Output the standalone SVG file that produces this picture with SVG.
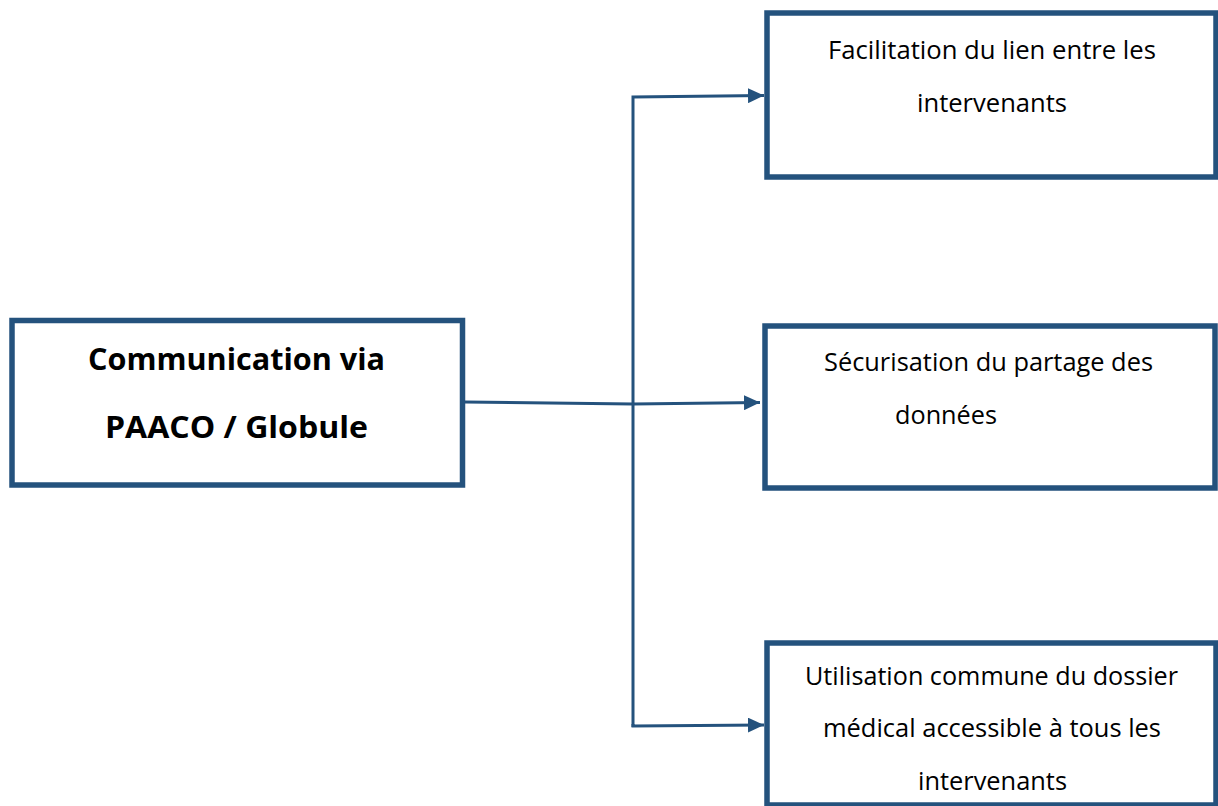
<svg xmlns="http://www.w3.org/2000/svg" width="1218" height="806" viewBox="0 0 1218 806">
<defs>
<marker id="arr" viewBox="0 0 16 15" refX="16" refY="7.5" markerWidth="16" markerHeight="15" markerUnits="userSpaceOnUse" orient="auto">
<path d="M0,0 L16,7.5 L0,15 z" fill="#24527d"/>
</marker>
<style>
.box{fill:#fff;stroke:#24527d;stroke-width:5.5}
.t{font-family:"Open Sans","Liberation Sans",sans-serif;font-size:25px;fill:#000}
.tb{font-family:"Open Sans","Liberation Sans",sans-serif;font-size:30px;font-weight:bold;fill:#000}
.c{fill:none;stroke:#24527d;stroke-width:3}
</style>
</defs>
<rect width="1218" height="806" fill="#fff"/>
<g id="connectors">
<polyline class="c" points="633,727 633,97 764,95.5" marker-end="url(#arr)"/>
<polyline class="c" points="465,402 633,404 760,402.5" marker-end="url(#arr)"/>
<polyline class="c" points="633,724 633,726 764,725" marker-end="url(#arr)"/>
</g>
<g id="main">
<rect class="box" x="12" y="320.5" width="450.5" height="164.5"/>
<text class="tb" x="88" y="370" textLength="297" lengthAdjust="spacingAndGlyphs">Communication via</text>
<text class="tb" x="105" y="438" textLength="263" lengthAdjust="spacingAndGlyphs">PAACO / Globule</text>
</g>
<g id="n1">
<rect class="box" x="767" y="13" width="449" height="164"/>
<text class="t" x="828" y="59" textLength="328" lengthAdjust="spacingAndGlyphs">Facilitation du lien entre les</text>
<text class="t" x="917" y="112" textLength="150" lengthAdjust="spacingAndGlyphs">intervenants</text>
</g>
<g id="n2">
<rect class="box" x="765" y="326" width="450" height="162"/>
<text class="t" x="824" y="371" textLength="329" lengthAdjust="spacingAndGlyphs">Sécurisation du partage des</text>
<text class="t" x="895" y="424" textLength="102" lengthAdjust="spacingAndGlyphs">données</text>
</g>
<g id="n3">
<rect class="box" x="767" y="643" width="449" height="162"/>
<text class="t" x="805" y="685" textLength="373" lengthAdjust="spacingAndGlyphs">Utilisation commune du dossier</text>
<text class="t" x="823" y="737" textLength="338" lengthAdjust="spacingAndGlyphs">médical accessible à tous les</text>
<text class="t" x="918" y="790" textLength="149" lengthAdjust="spacingAndGlyphs">intervenants</text>
</g>
</svg>
